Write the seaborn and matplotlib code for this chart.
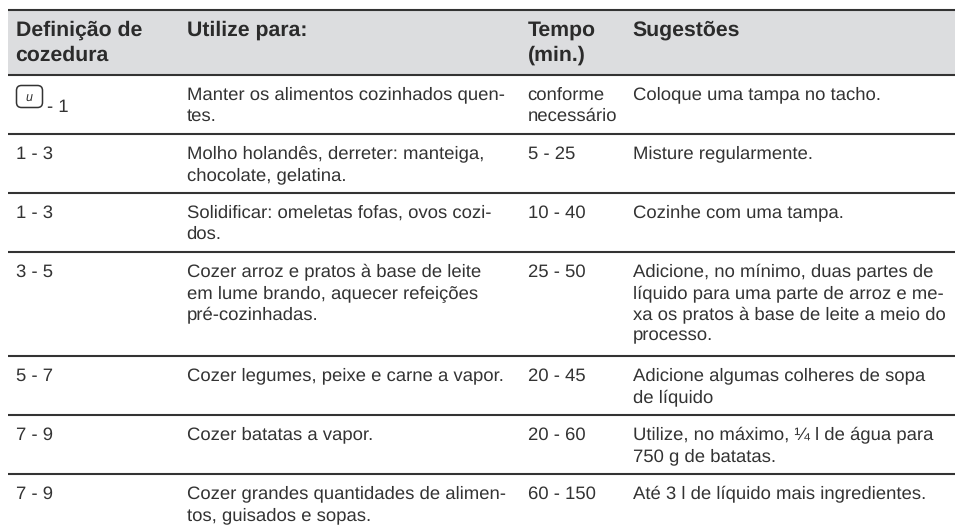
import matplotlib
matplotlib.use('Agg')
import matplotlib.pyplot as plt
import seaborn as sns
from matplotlib.patches import FancyBboxPatch

# table contents
headers = [['Definição de', 'cozedura'], ['Utilize para:'], ['Tempo', '(min.)'], ['Sugestões']]
settings = [['- 1'], ['1 - 3'], ['1 - 3'], ['3 - 5'], ['5 - 7'], ['7 - 9'], ['7 - 9']]
uses = [
    ['Manter os alimentos cozinhados quen-', 'tes.'],
    ['Molho holandês, derreter: manteiga,', 'chocolate, gelatina.'],
    ['Solidificar: omeletas fofas, ovos cozi-', 'dos.'],
    ['Cozer arroz e pratos à base de leite', 'em lume brando, aquecer refeições', 'pré-cozinhadas.'],
    ['Cozer legumes, peixe e carne a vapor.'],
    ['Cozer batatas a vapor.'],
    ['Cozer grandes quantidades de alimen-', 'tos, guisados e sopas.'],
]
times = [['conforme', 'necessário'], ['5 - 25'], ['10 - 40'], ['25 - 50'], ['20 - 45'], ['20 - 60'], ['60 - 150']]
tips = [
    ['Coloque uma tampa no tacho.'],
    ['Misture regularmente.'],
    ['Cozinhe com uma tampa.'],
    ['Adicione, no mínimo, duas partes de', 'líquido para uma parte de arroz e me-', 'xa os pratos à base de leite a meio do', 'processo.'],
    ['Adicione algumas colheres de sopa', 'de líquido'],
    ['Utilize, no máximo, ¼ l de água para', '750 g de batatas.'],
    ['Até 3 l de líquido mais ingredientes.'],
]

# layout in pixels
col_x = [15.5, 186.5, 527.5, 632.5]
left, right = 8, 955
top, head_bottom = 10, 75
row_lines = [134, 193, 252, 356, 415, 474]
row_tops = [head_bottom] + row_lines
text_color = '#333333'
line_color = '#333333'
line_h = 21.4

sns.set_theme(style='white')
plt.rcParams['font.family'] = ['Liberation Sans', 'DejaVu Sans']
plt.rcParams['text.hinting'] = 'no_hinting'
plt.rcParams['text.hinting_factor'] = 8

fig, ax = plt.subplots(figsize=(9.55, 5.28), dpi=100)
ax.set_position([0, 0, 1, 1])
ax.set_xlim(0, 955)
ax.set_ylim(528, 0)
ax.axis('off')

# header band and rules
ax.fill_between([left, right], top, head_bottom, color='#dcdddf', lw=0, zorder=0)
ax.hlines([top, head_bottom], left, right, color=line_color, lw=1.5)
ax.hlines(row_lines, left, right, color=line_color, lw=1.5)

for x, lines in zip(col_x, headers):
    for i, s in enumerate(lines):
        ax.text(x, 36 + i * 24.3, s, fontsize=15.3, fontweight='bold', color='#2b2b2b', va='baseline')

for col, x in zip([settings, uses, times, tips], col_x):
    for y0, lines in zip(row_tops, col):
        for i, s in enumerate(lines):
            ax.text(x, y0 + 24.5 + i * line_h, s, fontsize=13.3, color=text_color, va='baseline')

# standby symbol in front of "- 1"
symbol_label = ax.texts[[t.get_text() for t in ax.texts].index('- 1')]
symbol_label.set_x(47)
symbol_label.set_y(112)
ax.add_patch(FancyBboxPatch((20, 89), 19, 15, boxstyle='round,pad=3.5,rounding_size=5',
                            fc='white', ec='#333333', lw=1.1))
ax.text(29, 99, 'u', fontsize=9, style='italic', color='#333333', ha='center', va='center')

fig.savefig('out.png', dpi=100)
